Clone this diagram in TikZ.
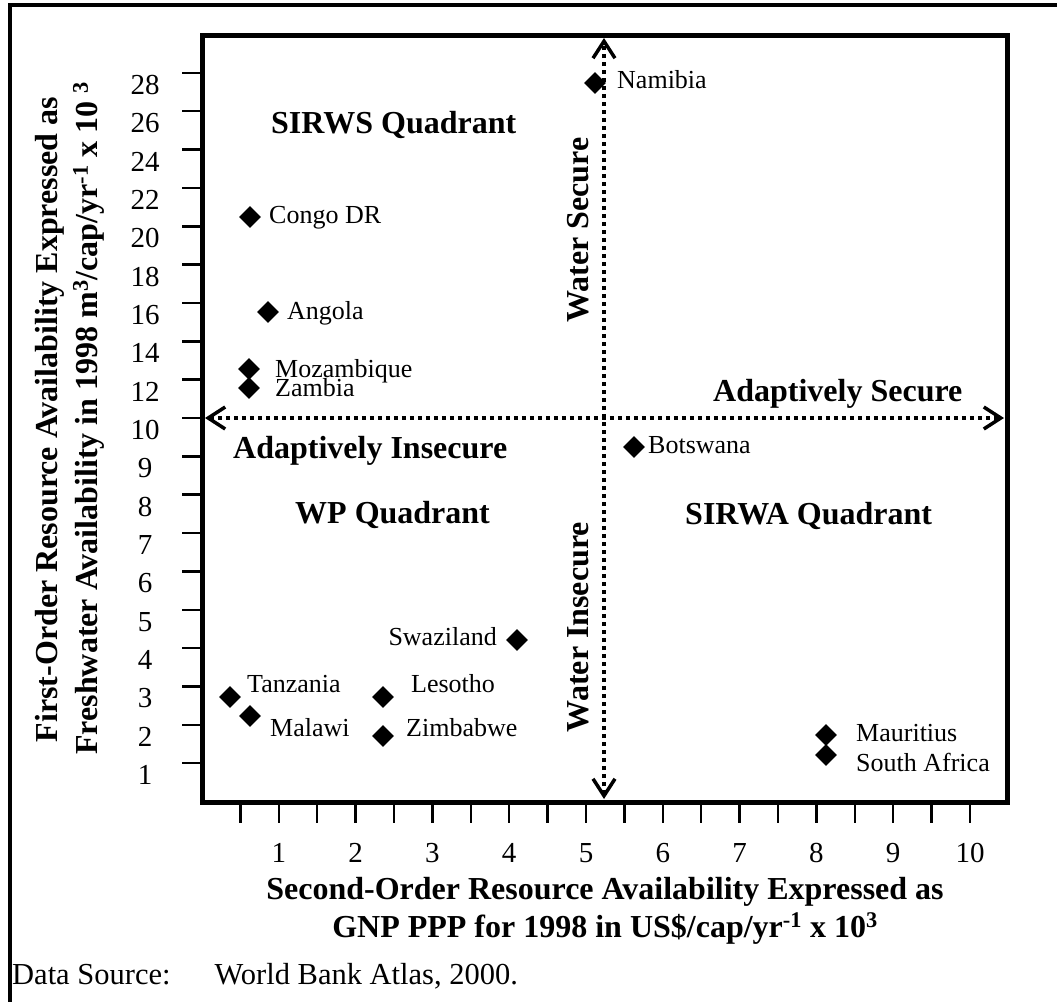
\documentclass[tikz,border=0pt]{standalone}
\usepackage{fontspec}
\setmainfont{Liberation Serif}
\usetikzlibrary{arrows.meta,shapes.geometric}

\tikzset{
  barb/.tip={Straight Barb[length=17pt,width=22pt,line width=3.5pt]},
}

\begin{document}
\begin{tikzpicture}[x=1pt,y=-1pt,
  frame/.style={line width=3.5pt},
  plotbox/.style={line width=5pt},
  tickmark/.style={line width=2.5pt},
  divider/.style={line width=4pt,dash pattern=on 4pt off 4pt,barb-barb},
  point/.style={diamond,fill=black,inner sep=0pt,minimum width=22pt,minimum height=22pt},
  country/.style={inner sep=0pt,anchor=base west,font=\fontsize{26}{30}\selectfont},
  ticklabel/.style={inner sep=0pt,anchor=base,font=\fontsize{29}{34}\selectfont},
  zone/.style={inner sep=0pt,font=\fontsize{32}{38}\selectfont\bfseries},
  axistitle/.style={inner sep=0pt,anchor=base,font=\fontsize{32}{38}\selectfont\bfseries},
]
\useasboundingbox (0,0) rectangle (1057,1001);
\clip (0,0) rectangle (1057,1001);

% outer frame
\draw[frame] (10,5) rectangle (1075,1020);

% plot area
\draw[plotbox] (202,35) rectangle (1007,802);

% y axis ticks and labels
\foreach \k in {1,...,19}
  \draw[tickmark] (182,{801.5-38.35*\k}) -- (202,{801.5-38.35*\k});
\foreach \k/\v in {1/1,2/2,3/3,4/4,5/5,6/6,7/7,8/8,9/9,10/10,
                   11/12,12/14,13/16,14/18,15/20,16/22,17/24,18/26,19/28}
  \node[ticklabel] (y\k) at (145,{801.5-38.35*\k+21.5}) {\v};

% x axis ticks and labels
\foreach \j in {1,...,20}
  \draw[tickmark] ({202+38.4*\j},802) -- ({202+38.4*\j},823);
\foreach \n in {1,...,10}
  \node[ticklabel] (x\n) at ({202+76.8*\n},862) {\n};

% quadrant dividers
\coordinate (vtop) at (604,38);
\coordinate (vbot) at (604,799);
\coordinate (hleft) at (205,418);
\coordinate (hright) at (1004,418);
\draw[divider] (vbot) -- (vtop);
\draw[divider] (hleft) -- (hright);

% countries
\node[point] (namibia) at (595,83) {};
\node[country] (namibia-l) at (617,88) {Namibia};
\node[point] (congo) at (250,217) {};
\node[country] (congo-l) at (269,223) {Congo DR};
\node[point] (angola) at (268,312) {};
\node[country] (angola-l) at (287,319) {Angola};
\node[point] (mozambique) at (249,369) {};
\node[country] (mozambique-l) at (275,377) {Mozambique};
\node[point] (zambia) at (249,388) {};
\node[country] (zambia-l) at (275,396) {Zambia};
\node[point] (botswana) at (634,447) {};
\node[country] (botswana-l) at (648,453) {Botswana};
\node[point] (swaziland) at (517,640) {};
\node[country,anchor=base east] (swaziland-l) at (497,645) {Swaziland};
\node[point] (tanzania) at (230,697) {};
\node[country] (tanzania-l) at (247,692) {Tanzania};
\node[point] (malawi) at (250,716) {};
\node[country] (malawi-l) at (270,736) {Malawi};
\node[point] (lesotho) at (383,697) {};
\node[country] (lesotho-l) at (411,692) {Lesotho};
\node[point] (zimbabwe) at (383,736) {};
\node[country] (zimbabwe-l) at (406,736) {Zimbabwe};
\node[point] (mauritius) at (826,735) {};
\node[country] (mauritius-l) at (856,741) {Mauritius};
\node[point] (southafrica) at (826,755) {};
\node[country] (southafrica-l) at (856,771) {South Africa};

% zone labels
\node[zone,anchor=base west] (sirws) at (271,133) {SIRWS Quadrant};
\node[zone,anchor=base west] (adsec) at (713,401) {Adaptively Secure};
\node[zone,anchor=base west] (adins) at (233,458) {Adaptively Insecure};
\node[zone,anchor=base west] (sirwa) at (685,524) {SIRWA Quadrant};
\node[zone,anchor=base west] (wp) at (295,523) {WP Quadrant};
\node[zone,rotate=90,anchor=base] (wsec) at (588,230) {Water Secure};
\node[zone,rotate=90,anchor=base] (wins) at (588,627) {Water Insecure};

% axis titles
\node[axistitle] (xt1) at (605,899) {Second-Order Resource Availability Expressed as};
\node[axistitle] (xt2) at (605,937) {GNP PPP for 1998 in US\$/cap/yr\textsuperscript{-1} x 10\textsuperscript{3}};
\node[axistitle,rotate=90] (yt1) at (57,419.5) {First-Order Resource Availability Expressed as};
\node[axistitle,rotate=90] (yt2) at (97,418) {Freshwater Availability in 1998 m\textsuperscript{3}/cap/yr\textsuperscript{-1} x 10 \textsuperscript{3}};

% source note
\node[inner sep=0pt,anchor=base west,font=\fontsize{30.5}{36}\selectfont] (src) at (12,984) {Data Source:\hspace{44pt}World Bank Atlas, 2000.};
\end{tikzpicture}
\end{document}
